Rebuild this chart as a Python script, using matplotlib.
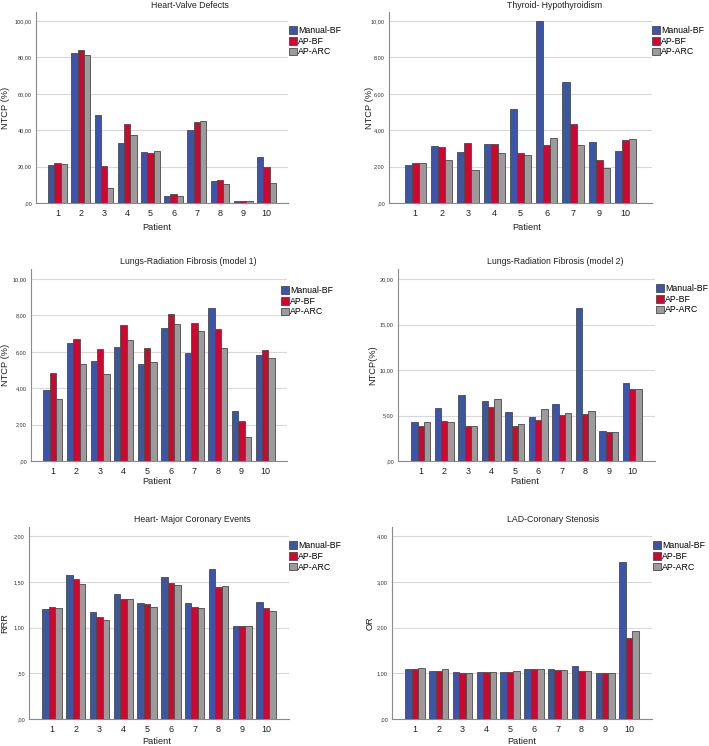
import matplotlib
matplotlib.use("Agg")
import matplotlib.pyplot as plt
from matplotlib.patches import Patch
from matplotlib.transforms import blended_transform_factory
import numpy as np

plt.rcParams['font.family'] = ['Liberation Sans', 'DejaVu Sans']

series_names = ["Manual-BF", "AP-BF", "AP-ARC"]
colors = ["#3B56A6", "#D1062F", "#9C9A9A"]

patients_10 = ["1", "2", "3", "4", "5", "6", "7", "8", "9", "10"]
patients_thyroid = ["1", "2", "3", "4", "5", "6", "7", "9", "10"]

# Heart-Valve Defects NTCP (%)
hv_manual = [20.7, 82.6, 48.6, 32.9, 28.2, 3.7, 40.2, 11.9, 1.1, 25.4]
hv_apbf = [22.1, 84.1, 20.3, 43.5, 27.6, 4.8, 44.4, 12.8, 1.1, 19.9]
hv_aparc = [21.4, 81.4, 8.2, 37.5, 28.7, 4.0, 45.2, 10.6, 1.1, 11.2]

# Thyroid- Hypothyroidism NTCP (%)
th_manual = [2.11, 3.16, 2.83, 3.25, 5.19, 10.0, 6.64, 3.36, 2.87]
th_apbf = [2.18, 3.06, 3.30, 3.25, 2.75, 3.18, 4.37, 2.39, 3.46]
th_aparc = [2.18, 2.35, 1.82, 2.77, 2.66, 3.58, 3.20, 1.94, 3.53]

# Lungs-Radiation Fibrosis (model 1)
l1_manual = [3.88, 6.48, 5.48, 6.26, 5.35, 7.33, 5.93, 8.42, 2.75, 5.81]
l1_apbf = [4.84, 6.70, 6.17, 7.45, 6.19, 8.06, 7.60, 7.23, 2.22, 6.12]
l1_aparc = [3.42, 5.33, 4.76, 6.67, 5.44, 7.55, 7.14, 6.19, 1.32, 5.68]

# Lungs-Radiation Fibrosis (model 2)
l2_manual = [4.29, 5.79, 7.29, 6.56, 5.42, 4.87, 6.30, 16.85, 3.33, 8.57]
l2_apbf = [3.81, 4.36, 3.88, 5.90, 3.85, 4.54, 5.02, 5.20, 3.15, 7.88]
l2_aparc = [4.25, 4.25, 3.88, 6.78, 4.03, 5.75, 5.31, 5.46, 3.15, 7.95]

# Heart- Major Coronary Events (RRR)
hc_manual = [1.203, 1.576, 1.170, 1.371, 1.272, 1.550, 1.265, 1.642, 1.013, 1.283]
hc_apbf = [1.221, 1.532, 1.115, 1.316, 1.258, 1.484, 1.221, 1.448, 1.013, 1.214]
hc_aparc = [1.214, 1.473, 1.079, 1.313, 1.225, 1.463, 1.214, 1.452, 1.013, 1.185]

# LAD-Coronary Stenosis (OR)
lad_manual = [1.084, 1.055, 1.018, 1.026, 1.033, 1.092, 1.084, 1.150, 1.000, 3.436]
lad_apbf = [1.084, 1.040, 1.010, 1.018, 1.026, 1.084, 1.062, 1.048, 1.000, 1.773]
lad_aparc = [1.106, 1.084, 1.010, 1.018, 1.040, 1.084, 1.062, 1.048, 1.000, 1.934]

W, H = 709, 746
fig = plt.figure(figsize=(W / 100, H / 100), dpi=100)


def fmt(v):
    s = f"{v:.2f}".replace('.', ',')
    if s.startswith("0,"):
        s = s[1:]
    return s


panels = [
    dict(title="Heart-Valve Defects", cats=patients_10, data=[hv_manual, hv_apbf, hv_aparc],
         box=(36, 288, 203, 12), ymax=105, yticks=[0, 20, 40, 60, 80, 100], ylabel="NTCP (%)",
         title_pos=(190, 5), ylabel_x=6, xlabel_pos=(157, 227), legend_pos=(289, 26), pad=0.93),
    dict(title="Thyroid- Hypothyroidism", cats=patients_thyroid, data=[th_manual, th_apbf, th_aparc],
         box=(389, 652, 203, 12), ymax=10.5, yticks=[0, 2, 4, 6, 8, 10], ylabel="NTCP (%)",
         title_pos=(555, 5), ylabel_x=370, xlabel_pos=(527, 227), legend_pos=(652, 26), pad=1.0),
    dict(title="Lungs-Radiation Fibrosis (model 1)", cats=patients_10, data=[l1_manual, l1_apbf, l1_aparc],
         box=(31, 287, 461, 269), ymax=10.55, yticks=[0, 2, 4, 6, 8, 10], ylabel="NTCP (%)",
         title_pos=(188, 262), ylabel_x=5, xlabel_pos=(157, 482), legend_pos=(281, 286), pad=0.93),
    dict(title="Lungs-Radiation Fibrosis (model 2)", cats=patients_10, data=[l2_manual, l2_apbf, l2_aparc],
         box=(398, 655, 461, 269), ymax=21.1, yticks=[0, 5, 10, 15, 20], ylabel="NTCP(%)",
         title_pos=(555, 262), ylabel_x=373, xlabel_pos=(525, 482), legend_pos=(656, 284), pad=0.97),
    dict(title="Heart- Major Coronary Events", cats=patients_10, data=[hc_manual, hc_apbf, hc_aparc],
         box=(29, 289, 719, 527), ymax=2.1, yticks=[0, 0.5, 1.0, 1.5, 2.0], ylabel="RRR",
         title_pos=(192, 519), ylabel_x=5, xlabel_pos=(157, 741), legend_pos=(289, 541), pad=0.97),
    dict(title="LAD-Coronary Stenosis", cats=patients_10, data=[lad_manual, lad_apbf, lad_aparc],
         box=(392, 652, 719, 527), ymax=4.2, yticks=[0, 1, 2, 3, 4], ylabel="OR",
         title_pos=(553, 519), ylabel_x=370, xlabel_pos=(522, 741), legend_pos=(653, 541), pad=0.97),
]

bw = 0.27
for p in panels:
    l, r, b, t = p["box"]
    ax = fig.add_axes([l / W, 1 - b / H, (r - l) / W, (b - t) / H])
    n = len(p["cats"])
    x = np.arange(1, n + 1)
    for i, (vals, c) in enumerate(zip(p["data"], colors)):
        ax.bar(x + (i - 1) * bw, vals, width=bw, color=c, edgecolor="#4a4a4a",
               linewidth=0.6, zorder=3)
    ax.set_xlim(1 - p["pad"], n + p["pad"])
    ax.set_ylim(0, p["ymax"])
    ax.set_xticks(x)
    ax.set_xticklabels(p["cats"], fontsize=6.5, color="#222222")
    ax.set_yticks(p["yticks"])
    ax.set_yticklabels([fmt(v) for v in p["yticks"]], fontsize=4, color="#333333")
    ax.tick_params(axis='both', length=0)
    ax.tick_params(axis='y', pad=3)
    ax.tick_params(axis='x', pad=4)
    ax.grid(axis='y', color="#d8d8d8", linewidth=0.8, zorder=0)
    ax.set_axisbelow(True)
    for s in ("top", "right"):
        ax.spines[s].set_visible(False)
    for s in ("left", "bottom"):
        ax.spines[s].set_color("#8a8a8a")
        ax.spines[s].set_linewidth(0.8)
    ax.set_ylabel(p["ylabel"], fontsize=6.7, color="#222222")
    ax.yaxis.set_label_coords(p["ylabel_x"] / W, 0.5,
                              transform=blended_transform_factory(fig.transFigure, ax.transAxes))
    ax.yaxis.label.set_va("center")
    ax.set_xlabel("Patient", fontsize=6.7, color="#222222")
    ax.xaxis.set_label_coords(p["xlabel_pos"][0] / W, 1 - p["xlabel_pos"][1] / H,
                              transform=fig.transFigure)
    ax.xaxis.label.set_va("center")
    fig.text(p["title_pos"][0] / W, 1 - p["title_pos"][1] / H, p["title"],
             fontsize=6.3, ha="center", va="center", color="#222222")
    handles = [Patch(facecolor=c, edgecolor="#4a4a4a", linewidth=0.6) for c in colors]
    ax.legend(handles, series_names, loc="upper left",
              bbox_to_anchor=(p["legend_pos"][0] / W, 1 - p["legend_pos"][1] / H),
              bbox_transform=fig.transFigure, frameon=False, fontsize=6.3,
              handlelength=0.9, handleheight=1.0, handletextpad=0.15,
              labelspacing=0.2, borderpad=0, borderaxespad=0)

fig.savefig("out.png", dpi=100)
